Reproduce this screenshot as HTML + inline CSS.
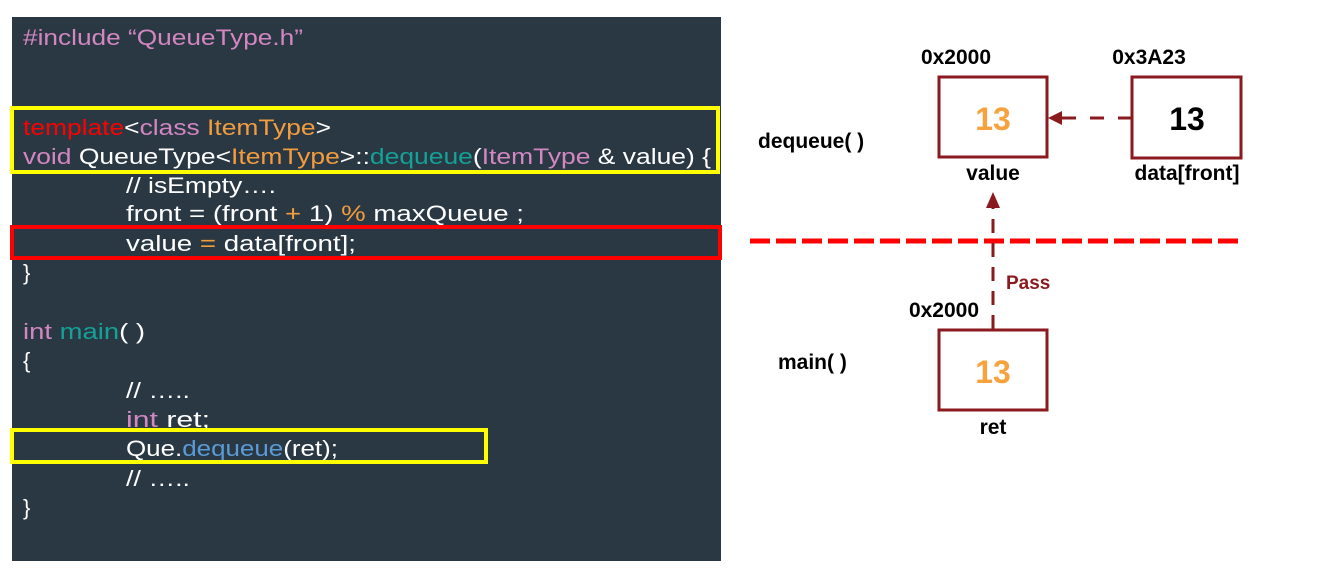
<!DOCTYPE html>
<html><head><meta charset="utf-8"><style>
html,body{margin:0;padding:0;background:#fff;width:1338px;height:570px;overflow:hidden}
svg{display:block}
.c{font-family:"Liberation Sans Narrow","Liberation Sans",sans-serif;font-size:22px;fill:#fff}
.p{fill:#d286c2}.o{fill:#f39c3d}.t{fill:#14a198}.r{fill:#ff0000}.b{fill:#5b9bd5}
.d{font-family:"Liberation Sans",sans-serif;font-weight:bold;fill:#000}
</style></head><body>
<svg width="1338" height="570" xmlns="http://www.w3.org/2000/svg">
<rect x="12" y="17" width="709" height="544" fill="#2a3843"/>
<g class="c">
<text x="23" y="45" textLength="280" lengthAdjust="spacingAndGlyphs" class="p">#include “QueueType.h”</text>
<text x="23" y="135" textLength="308" lengthAdjust="spacingAndGlyphs"><tspan class="r">template</tspan>&lt;<tspan class="p">class</tspan> <tspan class="o">ItemType</tspan>&gt;</text>
<text x="23" y="164" textLength="688" lengthAdjust="spacingAndGlyphs"><tspan class="p">void</tspan> QueueType&lt;<tspan class="o">ItemType</tspan>&gt;::<tspan class="t">dequeue</tspan>(<tspan class="p">ItemType</tspan> &amp; value) {</text>
<text x="126" y="193" textLength="150" lengthAdjust="spacingAndGlyphs">// isEmpty….</text>
<text x="126" y="221" textLength="398" lengthAdjust="spacingAndGlyphs">front = (front <tspan class="o">+</tspan> 1) <tspan class="o">%</tspan> maxQueue ;</text>
<text x="126" y="251" textLength="230" lengthAdjust="spacingAndGlyphs">value <tspan class="o">=</tspan> data[front];</text>
<text x="23" y="280">}</text>
<text x="23" y="339" textLength="122" lengthAdjust="spacingAndGlyphs"><tspan class="p">int</tspan> <tspan class="t">main</tspan>( )</text>
<text x="23" y="368">{</text>
<text x="126" y="398" textLength="64" lengthAdjust="spacingAndGlyphs">// …..</text>
<text x="126" y="427" textLength="84" lengthAdjust="spacingAndGlyphs"><tspan class="p">int</tspan> ret;</text>
<text x="126" y="456" textLength="212" lengthAdjust="spacingAndGlyphs">Que.<tspan class="b">dequeue</tspan>(ret);</text>
<text x="126" y="486" textLength="64" lengthAdjust="spacingAndGlyphs">// …..</text>
<text x="23" y="515">}</text>
</g>
<rect x="12" y="108" width="706" height="64" fill="none" stroke="#ffff00" stroke-width="4"/>
<rect x="12" y="227" width="708" height="31" fill="none" stroke="#ff0000" stroke-width="4"/>
<rect x="12" y="430" width="474" height="32" fill="none" stroke="#ffff00" stroke-width="4"/>

<line x1="750" y1="241" x2="1244" y2="241" stroke="#ff0000" stroke-width="5" stroke-dasharray="20,6"/>
<rect x="939" y="77" width="108" height="80" fill="#fff" stroke="#8b1a1f" stroke-width="3"/>
<rect x="1132" y="77" width="109" height="81" fill="#fff" stroke="#8b1a1f" stroke-width="3"/>
<rect x="939" y="330" width="108" height="80" fill="#fff" stroke="#8b1a1f" stroke-width="3"/>
<line x1="1132" y1="118" x2="1060" y2="118" stroke="#8b1a1f" stroke-width="3" stroke-dasharray="14,14"/>
<polygon points="1048,118 1062,111 1062,125" fill="#8b1a1f"/>
<line x1="993" y1="329" x2="993" y2="205" stroke="#8b1a1f" stroke-width="3" stroke-dasharray="14,10"/>
<polygon points="993,192 986,208 1000,208" fill="#8b1a1f"/>
<g class="d" font-size="21">
<text x="956" y="64" text-anchor="middle">0x2000</text>
<text x="1149" y="64" text-anchor="middle">0x3A23</text>
<text x="993" y="180" text-anchor="middle">value</text>
<text x="1187" y="180" text-anchor="middle">data[front]</text>
<text x="758" y="148">dequeue( )</text>
<text x="944" y="317" text-anchor="middle">0x2000</text>
<text x="778" y="369">main( )</text>
<text x="993" y="434" text-anchor="middle">ret</text>
</g>
<text x="1006" y="289" font-family="Liberation Sans,sans-serif" font-weight="bold" font-size="19" fill="#8b1a1f">Pass</text>
<g font-family="Liberation Sans,sans-serif" font-weight="bold" font-size="32" text-anchor="middle">
<text x="993" y="130" fill="#f8a23e">13</text>
<text x="1187" y="130" fill="#000">13</text>
<text x="993" y="383" fill="#f8a23e">13</text>
</g>
</svg>
</body></html>
